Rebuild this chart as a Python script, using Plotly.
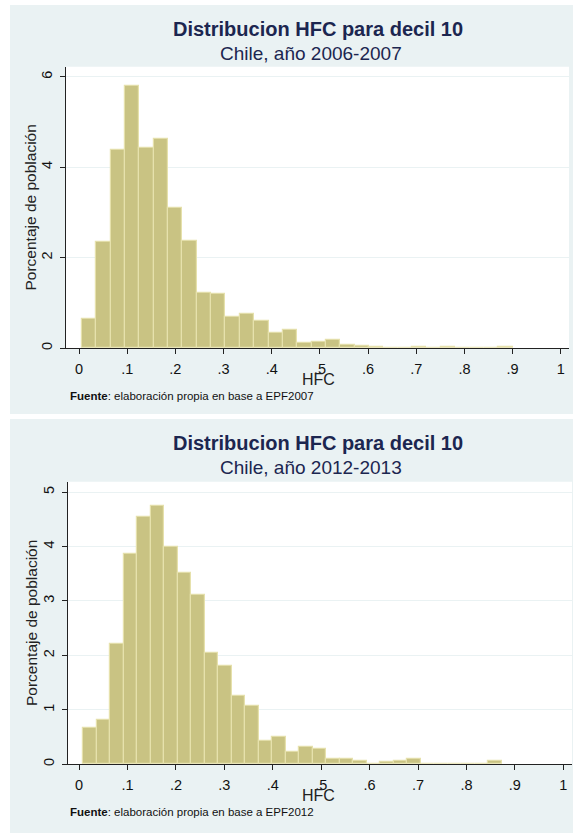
import plotly.graph_objects as go

# HFC histogram data (percent of population per bin)
hfc_2007 = [0.65, 2.35, 4.38, 5.81, 4.44, 4.63, 3.10, 2.38, 1.23, 1.20,
            0.69, 0.75, 0.60, 0.33, 0.41, 0.11, 0.14, 0.19, 0.08, 0.06,
            0.03, 0.0, 0.0, 0.03, 0.0, 0.03, 0.0, 0.0, 0.0, 0.03]
bin_start_2007 = 0.006
bin_width_2007 = 0.0298

hfc_2012 = [0.67, 0.81, 2.21, 3.86, 4.54, 4.75, 3.99, 3.51, 3.11, 2.05,
            1.81, 1.25, 1.08, 0.43, 0.51, 0.23, 0.32, 0.29, 0.10, 0.10,
            0.06, 0.01, 0.04, 0.06, 0.09, 0.0, 0.0, 0.0, 0.0, 0.0, 0.07]
bin_start_2012 = 0.008
bin_width_2012 = 0.0279

x_tick_vals = [0, 0.1, 0.2, 0.3, 0.4, 0.5, 0.6, 0.7, 0.8, 0.9, 1]
x_tick_text = ["0", ".1", ".2", ".3", ".4", ".5", ".6", ".7", ".8", ".9", "1"]
y_ticks_2007 = [0, 2, 4, 6]
y_ticks_2012 = [0, 1, 2, 3, 4, 5]

titles = ["Distribucion HFC para decil 10", "Distribucion HFC para decil 10"]
subtitles = ["Chile, año 2006-2007", "Chile, año 2012-2013"]
notes = ["<b>Fuente</b>: elaboración propia en base a EPF2007",
         "<b>Fuente</b>: elaboración propia en base a EPF2012"]

W, H = 573, 835
FONT = "Liberation Sans, Arial, sans-serif"
BG = "#EAF2F3"
BAR = "#C9C383"
BAR_EDGE = "#E6E1AC"
NAVY = "#1C2650"


def px(x):
    return x / W


def py(y):
    return 1 - y / H


def centers(start, width, n):
    return [start + width * (i + 0.5) for i in range(n)]


fig = go.Figure()

fig.add_trace(go.Bar(
    x=centers(bin_start_2007, bin_width_2007, len(hfc_2007)), y=hfc_2007,
    width=bin_width_2007, marker=dict(color=BAR, line=dict(color=BAR_EDGE, width=1.2)),
    xaxis="x", yaxis="y", showlegend=False, hoverinfo="skip"))
fig.add_trace(go.Bar(
    x=centers(bin_start_2012, bin_width_2012, len(hfc_2012)), y=hfc_2012,
    width=bin_width_2012, marker=dict(color=BAR, line=dict(color=BAR_EDGE, width=1.2)),
    xaxis="x2", yaxis="y2", showlegend=False, hoverinfo="skip"))

# panel geometry in pixels: (left, right, top, bottom) of plot area
panels = [(66, 569, 67, 349), (68, 572, 483, 766)]
xranges = [[-0.027, 1.017], [-0.023, 1.018]]
yranges = [[0, 6.22], [0, 5.19]]
yticks = [y_ticks_2007, y_ticks_2012]

axis_common = dict(showline=True, linecolor="#222222", linewidth=1.3,
                   ticks="outside", ticklen=5, tickcolor="#222222", tickwidth=1.3,
                   tickfont=dict(family=FONT, size=14.5, color="#111111"),
                   zeroline=False, fixedrange=True)

for i, (l, r, t, b) in enumerate(panels):
    sfx = "" if i == 0 else str(i + 1)
    fig.layout["xaxis" + sfx] = dict(
        domain=[px(l), px(r)], range=xranges[i], anchor="y" + sfx,
        tickvals=x_tick_vals, ticktext=x_tick_text, showgrid=False,
        ticklabelstandoff=2, **axis_common)
    fig.layout["yaxis" + sfx] = dict(
        domain=[py(b), py(t)], range=yranges[i], anchor="x" + sfx,
        tickvals=yticks[i], tickangle=-90, showgrid=True, gridcolor=BG,
        gridwidth=1.2, ticklabelstandoff=2, **axis_common)

# panel backgrounds
shapes = [
    dict(type="rect", xref="paper", yref="paper", x0=px(10), x1=px(573),
         y0=py(415), y1=py(5), fillcolor=BG, line=dict(width=0), layer="below"),
    dict(type="rect", xref="paper", yref="paper", x0=px(10), x1=px(573),
         y0=py(835), y1=py(420), fillcolor=BG, line=dict(width=0), layer="below"),
]
for (l, r, t, b) in panels:
    shapes.append(dict(type="rect", xref="paper", yref="paper", x0=px(l), x1=px(r),
                       y0=py(b), y1=py(t), fillcolor="white", line=dict(width=0),
                       layer="below"))

annotations = []
offsets = [0, 415]
for i, off in enumerate(offsets):
    l, r, t, b = panels[i]
    annotations += [
        dict(text="<b>%s</b>" % titles[i], x=px(318), y=py(off + 29), xref="paper", yref="paper",
             showarrow=False, xanchor="center", yanchor="middle",
             font=dict(family=FONT, size=20, color=NAVY)),
        dict(text=subtitles[i], x=px(311), y=py(off + 54), xref="paper", yref="paper",
             showarrow=False, xanchor="center", yanchor="middle",
             font=dict(family=FONT, size=19, color=NAVY)),
        dict(text="Porcentaje de población", x=px(31), y=py((t + b) / 2), xref="paper",
             yref="paper", showarrow=False, textangle=-90, xanchor="center",
             yanchor="middle", font=dict(family=FONT, size=15.5, color="#222222")),
        dict(text="HFC", x=px(318), y=py(b + 31), xref="paper", yref="paper",
             showarrow=False, xanchor="center", yanchor="middle",
             font=dict(family=FONT, size=16, color="#222222")),
        dict(text=notes[i], x=px(68), y=py(b + 48), xref="paper", yref="paper",
             showarrow=False, xanchor="left", yanchor="middle",
             font=dict(family=FONT, size=11.5, color="#111111")),
    ]

fig.update_layout(
    width=W, height=H, margin=dict(l=0, r=0, t=0, b=0),
    paper_bgcolor="white", plot_bgcolor="white", bargap=0,
    shapes=shapes, annotations=annotations,
)

fig.write_html("out.html", config={"displayModeBar": False})
